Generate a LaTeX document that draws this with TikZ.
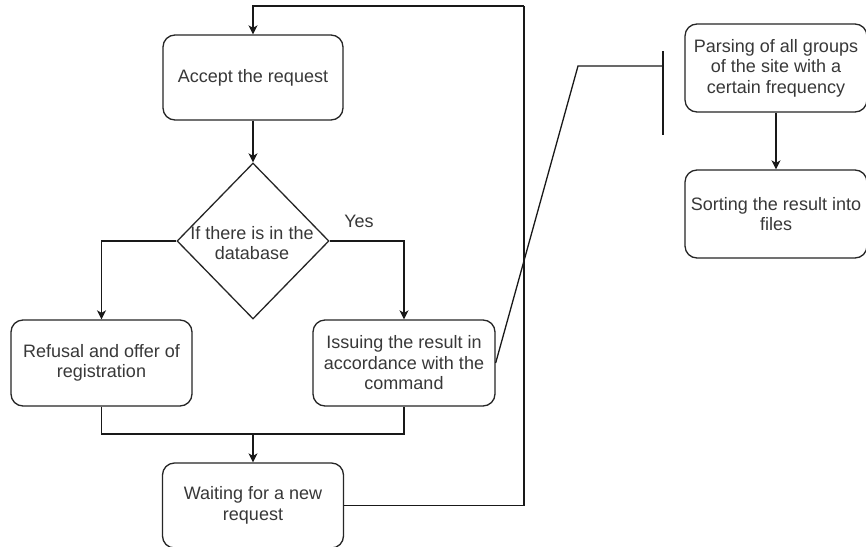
\documentclass[tikz,border=0pt]{standalone}
\usepackage{fontspec}
\setmainfont{Liberation Sans}
\usetikzlibrary{arrows.meta,shapes.geometric}

\tikzset{
  flowline/.style={line width=1.3pt, draw=black!90},
  arr/.style={flowline, -{Stealth[length=9pt,width=9pt,inset=2.5pt]}},
  lbl/.style={text=black!78, font=\fontsize{18pt}{20.5pt}\selectfont, align=center, inner sep=0pt},
  procbox/.style={draw=black!85, line width=1.3pt, rounded corners=12pt,
    minimum width=181pt, minimum height=86pt, inner sep=0pt,
    text=black!78, font=\fontsize{18pt}{20.5pt}\selectfont, align=center},
  decbox/.style={diamond, draw=black!85, line width=1.3pt,
    minimum width=152pt, minimum height=156pt, inner sep=0pt}
}

\begin{document}
\begin{tikzpicture}[x=1pt, y=-1pt]
  \useasboundingbox (0,0) rectangle (866,546);
  \clip (0,0) rectangle (866,546);
  \fill[white] (0,0) rectangle (866,546);

  % main request-handling flow
  \node[procbox, minimum width=180pt, minimum height=85pt] (acc) at (253,77.5) {Accept the request};
  \node[decbox] (dec) at (253,241) {};
  \node[lbl] (dectxt) at (252,243) {If there is in the\\database};
  \node[procbox] (ref) at (101.5,363) {Refusal and offer of\\registration};
  \node[procbox, minimum width=182pt] (iss) at (404,363) {Issuing the result in\\accordance with the\\command};
  \node[procbox, minimum height=85pt] (wait) at (253,505.5) {Waiting for a new\\request};

  % background parsing job
  \node[procbox, minimum width=182pt, minimum height=88pt] (parse) at (776,68) {Parsing of all groups\\of the site with a\\certain frequency};
  \node[procbox, minimum width=182pt, minimum height=88pt] (sort) at (776,214) {Sorting the result into\\files};

  % helper points
  \coordinate (loopR) at (524,6);
  \coordinate (mrg) at (253,434);
  \coordinate (annBend) at (578,66);
  \coordinate (annTip) at (663,66);
  \coordinate (brTop) at (663,51);
  \coordinate (brBot) at (663,135);

  % connectors
  \draw[arr] (acc.south) -- (dec.north);
  \draw[arr] (dec.west) -| (ref.north);
  \draw[arr] (dec.east) -| (iss.north);
  \node[lbl] (yes) at (359,221) {Yes};
  \draw[flowline] (ref.south) |- (mrg) -| (iss.south);
  \draw[arr] (mrg) -- (wait.north);
  \draw[flowline] (wait.east) -| (loopR);
  \draw[arr] (loopR) -| (acc.north);
  \draw[arr] (parse.south) -- (sort.north);

  % annotation bracket
  \draw[flowline] (iss.east) -- (annBend) -- (annTip);
  \draw[flowline] (brTop) -- (brBot);
\end{tikzpicture}
\end{document}
